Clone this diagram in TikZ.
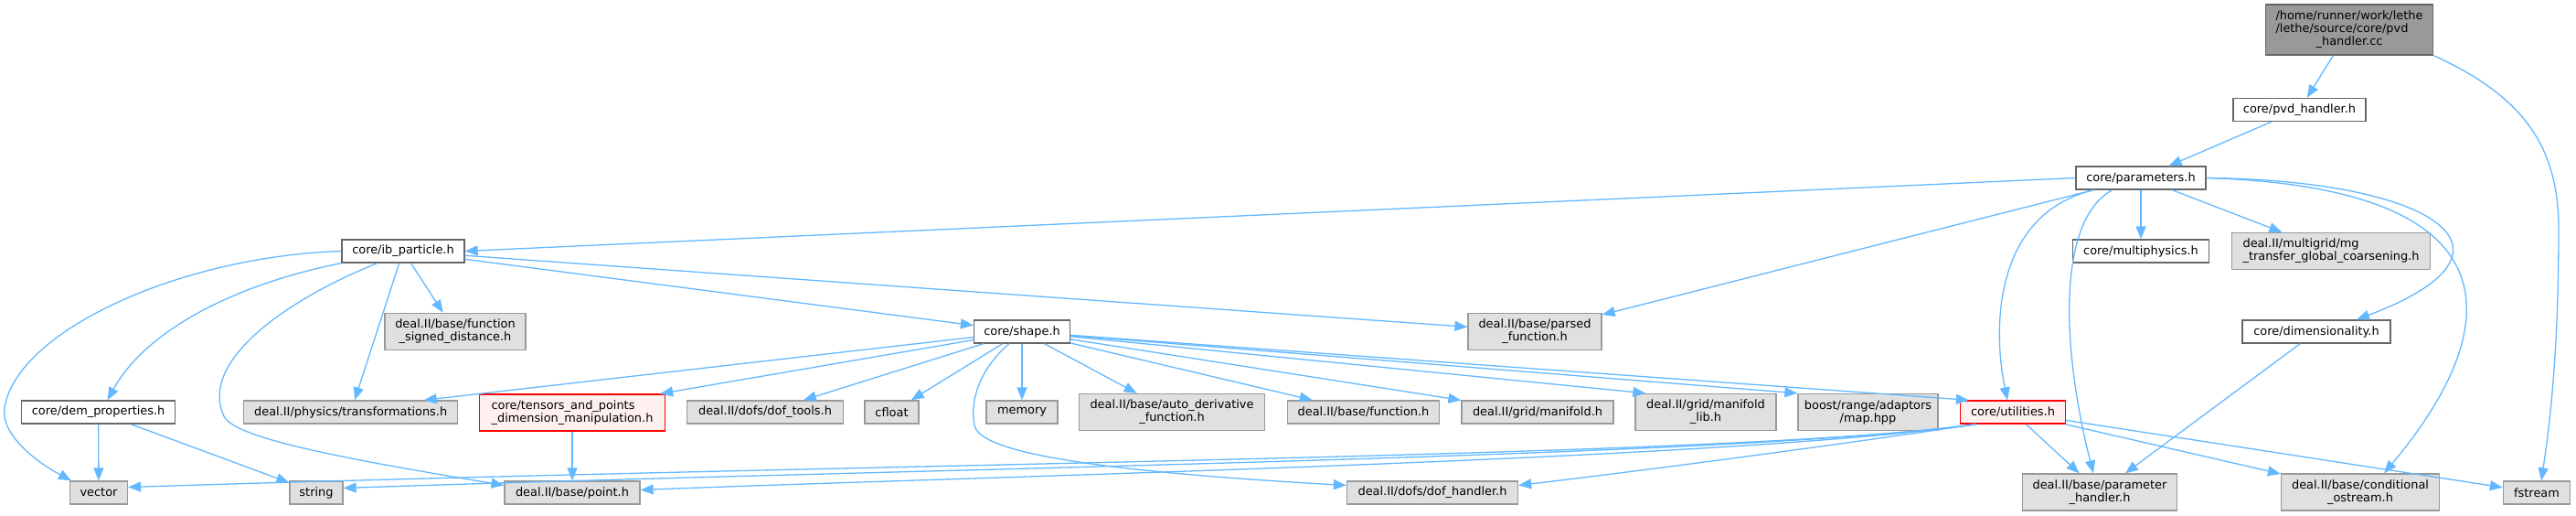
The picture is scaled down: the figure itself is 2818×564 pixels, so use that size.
\documentclass[tikz,border=0pt]{standalone}
\usepackage{fontspec}
\setmainfont{DejaVu Sans}
\usepackage{tikz}
\usetikzlibrary{arrows.meta}
\definecolor{edgeblue}{HTML}{63B8FF}
\definecolor{rootfill}{HTML}{999999}
\definecolor{rootline}{HTML}{666666}
\definecolor{docline}{HTML}{666666}
\definecolor{extfill}{HTML}{E0E0E0}
\definecolor{extline}{HTML}{999999}
\definecolor{redfill}{HTML}{FFF0F0}
\definecolor{redline}{HTML}{FF0000}
\tikzset{
    font=\fontsize{12.9}{14}\selectfont,
    filebox/.style={rectangle, line width=1.3pt, align=center, inner sep=2pt, minimum height=25pt},
    root/.style={filebox, draw=rootline, fill=rootfill},
    docfile/.style={filebox, draw=docline, fill=white},
    extfile/.style={filebox, draw=extline, fill=extfill},
    redfile/.style={filebox, draw=redline, fill=redfill},
    twoline/.style={minimum height=40pt},
    arrow/.style={-{Triangle[length=14pt,width=11pt]}, line width=1.3pt, color=edgeblue}
}

\begin{document}
\begin{tikzpicture}[x=1pt, y=-1pt]

    \useasboundingbox (0,0) rectangle (2818,564);

    % files, top to bottom
    \node (cc) [root, minimum width=183pt, minimum height=55pt] at (2570,32.5) {\begin{tabular}{@{}l@{}}/home/runner/work/lethe\\/lethe/source/core/pvd\\\multicolumn{1}{@{}c@{}}{\_handler.cc}\end{tabular}};
    \node (pvdh) [docfile, minimum width=145pt] at (2515.5,120) {core/pvd\_handler.h};
    \node (params) [docfile, minimum width=142pt] at (2342,194.5) {core/parameters.h};

    \node (ibp) [docfile, minimum width=134pt] at (441,274.5) {core/ib\_particle.h};
    \node (multiphys) [docfile, minimum width=149pt] at (2342,274.5) {core/multiphysics.h};
    \node (mgtransfer) [extfile, twoline, align=left, minimum width=217pt] at (2550,274.5) {deal.II/multigrid/mg\\\_transfer\_global\_coarsening.h};

    \node (sdist) [extfile, twoline, minimum width=154pt] at (498,362.5) {deal.II/base/function\\\_signed\_distance.h};
    \node (shape) [docfile, minimum width=105pt] at (1118,362.5) {core/shape.h};
    \node (parsedfn) [extfile, twoline, minimum width=146pt] at (1679,362.5) {deal.II/base/parsed\\\_function.h};
    \node (dimens) [docfile, minimum width=162pt] at (2534,362.5) {core/dimensionality.h};

    \node (demprop) [docfile, minimum width=168pt] at (107.6,450.5) {core/dem\_properties.h};
    \node (transf) [extfile, minimum width=234pt] at (383.7,450.5) {deal.II/physics/transformations.h};
    \node (tensors) [redfile, twoline, align=left, minimum width=203pt] at (626,451) {core/tensors\_and\_points\\\_dimension\_manipulation.h};
    \node (doftools) [extfile, minimum width=171pt] at (837,450.5) {deal.II/dofs/dof\_tools.h};
    \node (cfloat) [extfile, minimum width=59pt] at (975.5,450.5) {cfloat};
    \node (memory) [extfile, minimum width=78pt] at (1118,450.5) {memory};
    \node (autoderiv) [extfile, twoline, minimum width=203pt] at (1282,450.5) {deal.II/base/auto\_derivative\\\_function.h};
    \node (function) [extfile, minimum width=166pt] at (1491.5,450.5) {deal.II/base/function.h};
    \node (manifold) [extfile, minimum width=166pt] at (1682,450.5) {deal.II/grid/manifold.h};
    \node (manifoldlib) [extfile, twoline, minimum width=154pt] at (1866,450.5) {deal.II/grid/manifold\\\_lib.h};
    \node (boostmap) [extfile, twoline, minimum width=153pt] at (2043.5,450.5) {boost/range/adaptors\\/map.hpp};
    \node (utils) [redfile, minimum width=115pt] at (2202,450.5) {core/utilities.h};

    \node (vector) [extfile, minimum width=63pt] at (108,538.5) {vector};
    \node (string) [extfile, minimum width=58pt] at (346,538.5) {string};
    \node (point) [extfile, minimum width=148pt] at (626,538.5) {deal.II/base/point.h};
    \node (dofhandler) [extfile, minimum width=187pt] at (1567,538.5) {deal.II/dofs/dof\_handler.h};
    \node (paramhandler) [extfile, twoline, minimum width=169pt] at (2297,538) {deal.II/base/parameter\\\_handler.h};
    \node (condostream) [extfile, twoline, minimum width=173pt] at (2582,538) {deal.II/base/conditional\\\_ostream.h};
    \node (fstream) [extfile, minimum width=73pt] at (2775,538.5) {fstream};

    % includes of the source file
    \draw [arrow] (cc) -- (pvdh);
    \draw [arrow] (cc.south east) .. controls (2760,105) and (2799,160) .. (2799,250) .. controls (2799,380) and (2790,460) .. ([xshift=5pt]fstream.north);
    \draw [arrow] (pvdh) -- (params);

    % core/parameters.h
    \draw [arrow] (params.west) -- (ibp.east);
    \draw [arrow] (params) -- (parsedfn);
    \draw [arrow] (params) -- (multiphys);
    \draw [arrow] (params) -- (mgtransfer);
    \draw [arrow] (params.east) .. controls (2663,197) and (2778,274) .. ([xshift=44pt]dimens.north);
    \draw [arrow] (params.east) .. controls (2760,205) and (2740,360) .. ([xshift=26pt]condostream.north);
    \draw [arrow] ([xshift=-52pt]params.south) .. controls (2180,235) and (2180,360) .. ([xshift=-6pt]utils.north);
    \draw [arrow] ([xshift=-31pt]params.south) .. controls (2250,240) and (2255,380) .. ([xshift=-7pt]paramhandler.north);

    % core/ib_particle.h
    \draw [arrow] (ibp.west) .. controls (200,280) and (20,360) .. (5,445) .. controls (0,475) and (40,505) .. ([xshift=-30pt]vector.north);
    \draw [arrow] (ibp.south west) .. controls (260,310) and (160,360) .. ([xshift=10pt]demprop.north);
    \draw [arrow] ([xshift=-28pt]ibp.south) .. controls (330,320) and (215,390) .. (245,455) .. controls (257,481) and (400,505) .. ([yshift=8pt]point.west);
    \draw [arrow] (ibp) -- (transf);
    \draw [arrow] (ibp) -- (sdist);
    \draw [arrow] (ibp) -- (parsedfn);
    \draw [arrow] (ibp) -- (shape);

    \draw [arrow] (demprop) -- (vector);
    \draw [arrow] (demprop) -- (string);
    \draw [arrow] (tensors) -- (point);

    % core/shape.h
    \draw [arrow] (shape) -- ([xshift=80pt]transf.north);
    \draw [arrow] (shape) -- ([xshift=-6pt]tensors.north east);
    \draw [arrow] (shape) -- (doftools);
    \draw [arrow] (shape) -- (cfloat);
    \draw [arrow] (shape) -- (memory);
    \draw [arrow] (shape) -- (autoderiv);
    \draw [arrow] (shape) -- (function);
    \draw [arrow] (shape) -- (manifold);
    \draw [arrow] (shape) -- ([xshift=12pt]manifoldlib.north west);
    \draw [arrow] (shape) -- (boostmap.north west);
    \draw [arrow] (shape) -- ([xshift=10pt]utils.north west);
    \draw [arrow] ([xshift=-14pt]shape.south) .. controls (1075,400) and (1060,435) .. (1066,465) .. controls (1072,495) and (1200,515) .. ([yshift=8pt]dofhandler.west);

    % core/utilities.h
    \draw [arrow] ([xshift=-40pt]utils.south) .. controls (1900,500) and (1000,505) .. ([yshift=6pt]vector.east);
    \draw [arrow] ([xshift=-40pt]utils.south) .. controls (1900,500) and (1000,512) .. ([yshift=5pt]string.east);
    \draw [arrow] ([xshift=-40pt]utils.south) .. controls (1900,502) and (1100,520) .. ([yshift=3pt]point.east);
    \draw [arrow] ([xshift=-40pt]utils.south) .. controls (1950,495) and (1750,520) .. ([yshift=8pt]dofhandler.east);
    \draw [arrow] (utils) -- (paramhandler);
    \draw [arrow] (utils) -- (condostream);
    \draw [arrow] (utils) -- (fstream);
    \draw [arrow] (dimens) -- (paramhandler);

\end{tikzpicture}
\end{document}
